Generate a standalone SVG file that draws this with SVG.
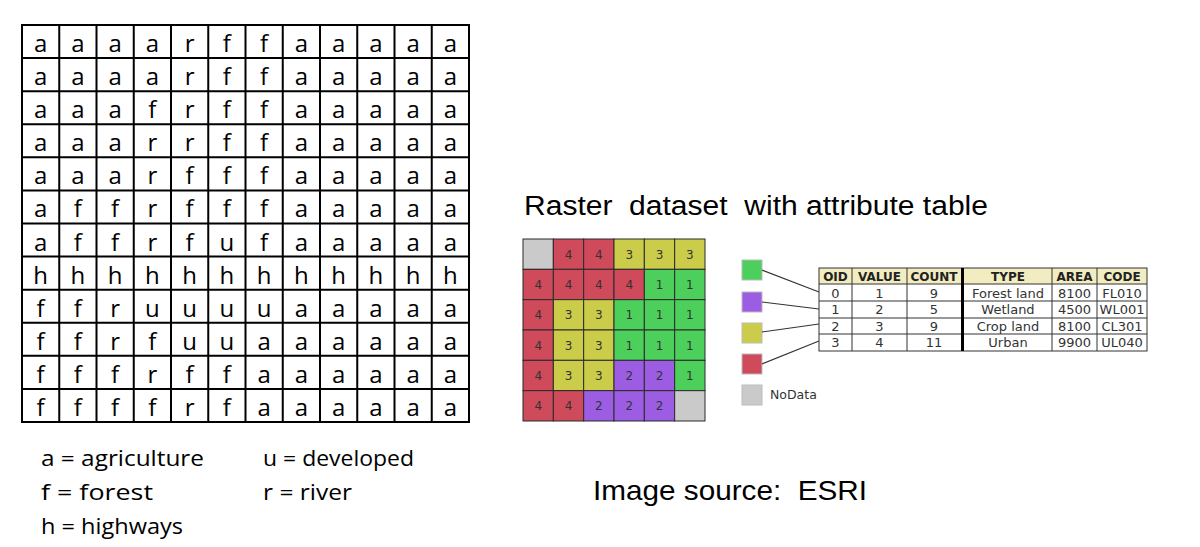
<svg xmlns="http://www.w3.org/2000/svg" width="1200" height="547" viewBox="0 0 1200 547">
<style>
.g{fill:#fff;stroke:#000;stroke-width:2}
.gl{font-family:"Open Sans","DejaVu Sans",sans-serif;font-size:24px;fill:#000;text-anchor:middle}
.lg{font-family:"Open Sans","DejaVu Sans",sans-serif;font-size:22px;fill:#000}
.big{font-family:"Liberation Sans",Arial,sans-serif;fill:#000;white-space:pre}
.c{stroke:#2a2a2a;stroke-width:1}
.r4{fill:#cf4a5b}.r3{fill:#cccc4b}.r1{fill:#4ccf5b}.r2{fill:#9c5de3}.r0{fill:#cacaca}
.n{font-family:"DejaVu Sans",Verdana,sans-serif;font-size:12px;fill:#333;text-anchor:middle}
.sw{stroke:#bbb;stroke-width:1}
.tb{font-family:"DejaVu Sans",Verdana,sans-serif;font-size:13px;fill:#333;text-anchor:middle}
.th{font-family:"DejaVu Sans",Verdana,sans-serif;font-size:12px;font-weight:bold;fill:#222;text-anchor:middle}
.tl{stroke:#333;stroke-width:1;fill:none}
.cn{stroke:#333;stroke-width:1.2;fill:none}
</style>

<g id="landuse-grid">
<rect class="g" x="22" y="25" width="447" height="397"/>
<path stroke="#000" stroke-width="2" fill="none" d="M59.25 25V422M96.5 25V422M133.75 25V422M171 25V422M208.25 25V422M245.5 25V422M282.75 25V422M320 25V422M357.25 25V422M394.5 25V422M431.75 25V422M22 58.08H469M22 91.17H469M22 124.25H469M22 157.33H469M22 190.42H469M22 223.5H469M22 256.58H469M22 289.67H469M22 322.75H469M22 355.83H469M22 388.92H469"/>
<g class="gl">
<text y="52"><tspan x="40.6">a</tspan><tspan x="77.9">a</tspan><tspan x="115.1">a</tspan><tspan x="152.4">a</tspan><tspan x="189.6">r</tspan><tspan x="226.9">f</tspan><tspan x="264.1">f</tspan><tspan x="301.4">a</tspan><tspan x="338.6">a</tspan><tspan x="375.9">a</tspan><tspan x="413.1">a</tspan><tspan x="450.4">a</tspan></text>
<text y="85.1"><tspan x="40.6">a</tspan><tspan x="77.9">a</tspan><tspan x="115.1">a</tspan><tspan x="152.4">a</tspan><tspan x="189.6">r</tspan><tspan x="226.9">f</tspan><tspan x="264.1">f</tspan><tspan x="301.4">a</tspan><tspan x="338.6">a</tspan><tspan x="375.9">a</tspan><tspan x="413.1">a</tspan><tspan x="450.4">a</tspan></text>
<text y="118.2"><tspan x="40.6">a</tspan><tspan x="77.9">a</tspan><tspan x="115.1">a</tspan><tspan x="152.4">f</tspan><tspan x="189.6">r</tspan><tspan x="226.9">f</tspan><tspan x="264.1">f</tspan><tspan x="301.4">a</tspan><tspan x="338.6">a</tspan><tspan x="375.9">a</tspan><tspan x="413.1">a</tspan><tspan x="450.4">a</tspan></text>
<text y="151.3"><tspan x="40.6">a</tspan><tspan x="77.9">a</tspan><tspan x="115.1">a</tspan><tspan x="152.4">r</tspan><tspan x="189.6">r</tspan><tspan x="226.9">f</tspan><tspan x="264.1">f</tspan><tspan x="301.4">a</tspan><tspan x="338.6">a</tspan><tspan x="375.9">a</tspan><tspan x="413.1">a</tspan><tspan x="450.4">a</tspan></text>
<text y="184.3"><tspan x="40.6">a</tspan><tspan x="77.9">a</tspan><tspan x="115.1">a</tspan><tspan x="152.4">r</tspan><tspan x="189.6">f</tspan><tspan x="226.9">f</tspan><tspan x="264.1">f</tspan><tspan x="301.4">a</tspan><tspan x="338.6">a</tspan><tspan x="375.9">a</tspan><tspan x="413.1">a</tspan><tspan x="450.4">a</tspan></text>
<text y="217.4"><tspan x="40.6">a</tspan><tspan x="77.9">f</tspan><tspan x="115.1">f</tspan><tspan x="152.4">r</tspan><tspan x="189.6">f</tspan><tspan x="226.9">f</tspan><tspan x="264.1">f</tspan><tspan x="301.4">a</tspan><tspan x="338.6">a</tspan><tspan x="375.9">a</tspan><tspan x="413.1">a</tspan><tspan x="450.4">a</tspan></text>
<text y="250.5"><tspan x="40.6">a</tspan><tspan x="77.9">f</tspan><tspan x="115.1">f</tspan><tspan x="152.4">r</tspan><tspan x="189.6">f</tspan><tspan x="226.9">u</tspan><tspan x="264.1">f</tspan><tspan x="301.4">a</tspan><tspan x="338.6">a</tspan><tspan x="375.9">a</tspan><tspan x="413.1">a</tspan><tspan x="450.4">a</tspan></text>
<text y="283.6"><tspan x="40.6">h</tspan><tspan x="77.9">h</tspan><tspan x="115.1">h</tspan><tspan x="152.4">h</tspan><tspan x="189.6">h</tspan><tspan x="226.9">h</tspan><tspan x="264.1">h</tspan><tspan x="301.4">h</tspan><tspan x="338.6">h</tspan><tspan x="375.9">h</tspan><tspan x="413.1">h</tspan><tspan x="450.4">h</tspan></text>
<text y="316.7"><tspan x="40.6">f</tspan><tspan x="77.9">f</tspan><tspan x="115.1">r</tspan><tspan x="152.4">u</tspan><tspan x="189.6">u</tspan><tspan x="226.9">u</tspan><tspan x="264.1">u</tspan><tspan x="301.4">a</tspan><tspan x="338.6">a</tspan><tspan x="375.9">a</tspan><tspan x="413.1">a</tspan><tspan x="450.4">a</tspan></text>
<text y="349.8"><tspan x="40.6">f</tspan><tspan x="77.9">f</tspan><tspan x="115.1">r</tspan><tspan x="152.4">f</tspan><tspan x="189.6">u</tspan><tspan x="226.9">u</tspan><tspan x="264.1">a</tspan><tspan x="301.4">a</tspan><tspan x="338.6">a</tspan><tspan x="375.9">a</tspan><tspan x="413.1">a</tspan><tspan x="450.4">a</tspan></text>
<text y="382.8"><tspan x="40.6">f</tspan><tspan x="77.9">f</tspan><tspan x="115.1">f</tspan><tspan x="152.4">r</tspan><tspan x="189.6">f</tspan><tspan x="226.9">f</tspan><tspan x="264.1">a</tspan><tspan x="301.4">a</tspan><tspan x="338.6">a</tspan><tspan x="375.9">a</tspan><tspan x="413.1">a</tspan><tspan x="450.4">a</tspan></text>
<text y="415.9"><tspan x="40.6">f</tspan><tspan x="77.9">f</tspan><tspan x="115.1">f</tspan><tspan x="152.4">f</tspan><tspan x="189.6">r</tspan><tspan x="226.9">f</tspan><tspan x="264.1">a</tspan><tspan x="301.4">a</tspan><tspan x="338.6">a</tspan><tspan x="375.9">a</tspan><tspan x="413.1">a</tspan><tspan x="450.4">a</tspan></text>
</g>
</g>

<g id="landuse-legend" class="lg">
<text x="41" y="466" textLength="163" lengthAdjust="spacingAndGlyphs">a = agriculture</text>
<text x="41" y="500" textLength="112" lengthAdjust="spacingAndGlyphs">f = forest</text>
<text x="41" y="534" textLength="142" lengthAdjust="spacingAndGlyphs">h = highways</text>
<text x="263" y="466" textLength="151" lengthAdjust="spacingAndGlyphs">u = developed</text>
<text x="263" y="500" textLength="89" lengthAdjust="spacingAndGlyphs">r = river</text>
</g>

<g id="title"><text class="big" xml:space="preserve" x="524" y="215" font-size="27" textLength="464" lengthAdjust="spacingAndGlyphs">Raster  dataset  with attribute table</text></g>
<g id="source"><text class="big" xml:space="preserve" x="593" y="500" font-size="28" textLength="274" lengthAdjust="spacingAndGlyphs">Image source:  ESRI</text></g>

<g id="raster">
<g class="c">
<rect class="r0" x="523" y="239" width="30.33" height="30.33"/><rect class="r4" x="553.33" y="239" width="30.33" height="30.33"/><rect class="r4" x="583.67" y="239" width="30.33" height="30.33"/><rect class="r3" x="614" y="239" width="30.33" height="30.33"/><rect class="r3" x="644.33" y="239" width="30.33" height="30.33"/><rect class="r3" x="674.67" y="239" width="30.33" height="30.33"/>
<rect class="r4" x="523" y="269.33" width="30.33" height="30.33"/><rect class="r4" x="553.33" y="269.33" width="30.33" height="30.33"/><rect class="r4" x="583.67" y="269.33" width="30.33" height="30.33"/><rect class="r4" x="614" y="269.33" width="30.33" height="30.33"/><rect class="r1" x="644.33" y="269.33" width="30.33" height="30.33"/><rect class="r1" x="674.67" y="269.33" width="30.33" height="30.33"/>
<rect class="r4" x="523" y="299.67" width="30.33" height="30.33"/><rect class="r3" x="553.33" y="299.67" width="30.33" height="30.33"/><rect class="r3" x="583.67" y="299.67" width="30.33" height="30.33"/><rect class="r1" x="614" y="299.67" width="30.33" height="30.33"/><rect class="r1" x="644.33" y="299.67" width="30.33" height="30.33"/><rect class="r1" x="674.67" y="299.67" width="30.33" height="30.33"/>
<rect class="r4" x="523" y="330" width="30.33" height="30.33"/><rect class="r3" x="553.33" y="330" width="30.33" height="30.33"/><rect class="r3" x="583.67" y="330" width="30.33" height="30.33"/><rect class="r1" x="614" y="330" width="30.33" height="30.33"/><rect class="r1" x="644.33" y="330" width="30.33" height="30.33"/><rect class="r1" x="674.67" y="330" width="30.33" height="30.33"/>
<rect class="r4" x="523" y="360.33" width="30.33" height="30.33"/><rect class="r3" x="553.33" y="360.33" width="30.33" height="30.33"/><rect class="r3" x="583.67" y="360.33" width="30.33" height="30.33"/><rect class="r2" x="614" y="360.33" width="30.33" height="30.33"/><rect class="r2" x="644.33" y="360.33" width="30.33" height="30.33"/><rect class="r1" x="674.67" y="360.33" width="30.33" height="30.33"/>
<rect class="r4" x="523" y="390.67" width="30.33" height="30.33"/><rect class="r4" x="553.33" y="390.67" width="30.33" height="30.33"/><rect class="r2" x="583.67" y="390.67" width="30.33" height="30.33"/><rect class="r2" x="614" y="390.67" width="30.33" height="30.33"/><rect class="r2" x="644.33" y="390.67" width="30.33" height="30.33"/><rect class="r0" x="674.67" y="390.67" width="30.33" height="30.33"/>
</g>
<g class="n">
<text y="258.6"><tspan x="568.5">4</tspan><tspan x="598.8">4</tspan><tspan x="629.2">3</tspan><tspan x="659.5">3</tspan><tspan x="689.8">3</tspan></text>
<text y="288.9"><tspan x="538.2">4</tspan><tspan x="568.5">4</tspan><tspan x="598.8">4</tspan><tspan x="629.2">4</tspan><tspan x="659.5">1</tspan><tspan x="689.8">1</tspan></text>
<text y="319.2"><tspan x="538.2">4</tspan><tspan x="568.5">3</tspan><tspan x="598.8">3</tspan><tspan x="629.2">1</tspan><tspan x="659.5">1</tspan><tspan x="689.8">1</tspan></text>
<text y="349.6"><tspan x="538.2">4</tspan><tspan x="568.5">3</tspan><tspan x="598.8">3</tspan><tspan x="629.2">1</tspan><tspan x="659.5">1</tspan><tspan x="689.8">1</tspan></text>
<text y="379.9"><tspan x="538.2">4</tspan><tspan x="568.5">3</tspan><tspan x="598.8">3</tspan><tspan x="629.2">2</tspan><tspan x="659.5">2</tspan><tspan x="689.8">1</tspan></text>
<text y="410.2"><tspan x="538.2">4</tspan><tspan x="568.5">4</tspan><tspan x="598.8">2</tspan><tspan x="629.2">2</tspan><tspan x="659.5">2</tspan></text>
</g>
</g>

<g id="swatch-green"><rect class="r1 sw" x="742" y="260" width="20" height="20"/></g>
<g id="swatch-purple"><rect class="r2 sw" x="742" y="292" width="20" height="20"/></g>
<g id="swatch-yellow"><rect class="r3 sw" x="742" y="323" width="20" height="20"/></g>
<g id="swatch-red"><rect class="r4 sw" x="742" y="354" width="20" height="20"/></g>
<g id="swatch-nodata"><rect class="r0 sw" x="742" y="385" width="20" height="20"/><text x="770" y="399" font-family="DejaVu Sans, Verdana, sans-serif" font-size="12.5" fill="#333">NoData</text></g>

<g id="connectors" class="cn">
<line x1="762" y1="270" x2="819" y2="292"/>
<line x1="762" y1="302" x2="819" y2="309"/>
<line x1="762" y1="332" x2="819" y2="324"/>
<line x1="762" y1="364" x2="819" y2="341"/>
</g>

<g id="attribute-table">
<rect x="819" y="268" width="328" height="16" fill="#f1edc1"/>
<rect x="819" y="284" width="328" height="67" fill="#fff"/>
<rect class="tl" x="819" y="268" width="328" height="83"/>
<path class="tl" d="M819 284H1147M819 301H1147M819 318H1147M819 334H1147M852 268V351M907 268V351M1052 268V351M1097 268V351"/>
<path d="M962.5 268V351" stroke="#000" stroke-width="3"/>
<g class="th">
<text y="281"><tspan x="835.5">OID</tspan><tspan x="879.5">VALUE</tspan><tspan x="934">COUNT</tspan><tspan x="1008">TYPE</tspan><tspan x="1074.5">AREA</tspan><tspan x="1122">CODE</tspan></text>
</g>
<g class="tb">
<text y="297.5"><tspan x="835.5">0</tspan><tspan x="879.5">1</tspan><tspan x="934">9</tspan><tspan x="1008">Forest land</tspan><tspan x="1074.5">8100</tspan><tspan x="1122">FL010</tspan></text>
<text y="314"><tspan x="835.5">1</tspan><tspan x="879.5">2</tspan><tspan x="934">5</tspan><tspan x="1008">Wetland</tspan><tspan x="1074.5">4500</tspan><tspan x="1122">WL001</tspan></text>
<text y="330.5"><tspan x="835.5">2</tspan><tspan x="879.5">3</tspan><tspan x="934">9</tspan><tspan x="1008">Crop land</tspan><tspan x="1074.5">8100</tspan><tspan x="1122">CL301</tspan></text>
<text y="347"><tspan x="835.5">3</tspan><tspan x="879.5">4</tspan><tspan x="934">11</tspan><tspan x="1008">Urban</tspan><tspan x="1074.5">9900</tspan><tspan x="1122">UL040</tspan></text>
</g>
</g>
</svg>
